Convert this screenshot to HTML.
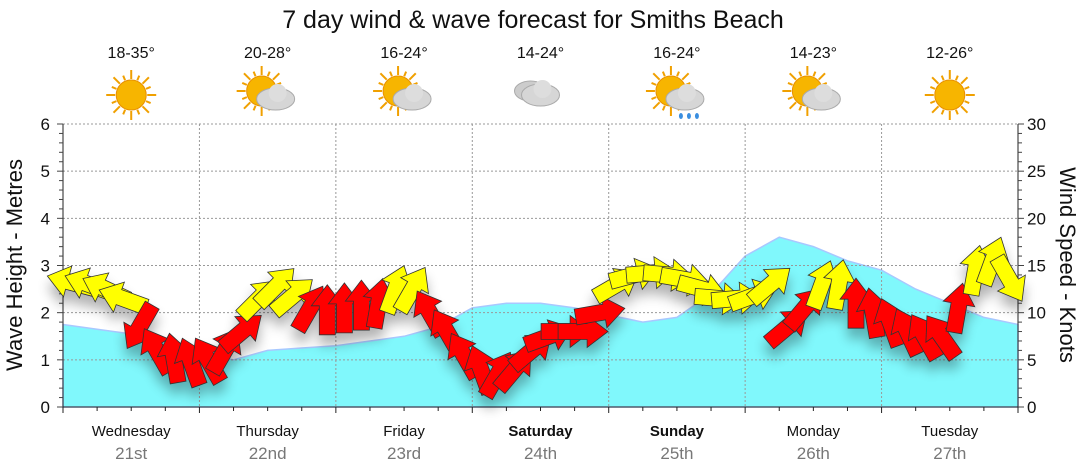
<!DOCTYPE html>
<html><head><meta charset="utf-8"><style>
body{margin:0;background:#fff;}
svg{display:block;font-family:"Liberation Sans",sans-serif;}
</style></head><body>
<svg id="chart" width="1080" height="475" viewBox="0 0 1080 475">
<defs>
<filter id="sh" x="-50%" y="-50%" width="200%" height="200%"><feGaussianBlur in="SourceAlpha" stdDeviation="6"/><feOffset dy="10"/><feComponentTransfer><feFuncA type="linear" slope="0.3"/></feComponentTransfer><feMerge><feMergeNode/><feMergeNode in="SourceGraphic"/></feMerge></filter>
</defs>
<text x="533" y="28" text-anchor="middle" font-size="25" fill="#111">7 day wind &amp; wave forecast for Smiths Beach</text>
<text transform="translate(22,265) rotate(-90)" text-anchor="middle" font-size="22" fill="#111">Wave Height - Metres</text>
<text transform="translate(1060,265) rotate(90)" text-anchor="middle" font-size="22" fill="#111">Wind Speed - Knots</text>
<text x="1013" y="400" text-anchor="end" font-size="10" fill="#8fd8e0">www.seabreeze.com.au</text>
<g id="g"></g>
</svg>
<script>
const days=['Wednesday','Thursday','Friday','Saturday','Sunday','Monday','Tuesday'];
const dates=['21st','22nd','23rd','24th','25th','26th','27th'];
const temps=['18-35°','20-28°','16-24°','14-24°','16-24°','14-23°','12-26°'];
const icons=['sun','suncloud','suncloud','cloud','rain','suncloud','sun'];
const leftTicks=[0,1,2,3,4,5,6];
const rightTicks=[0,5,10,15,20,25,30];
// wave height every 6 hours (29 points)
const waveHeight=[1.75,1.65,1.55,1.4,1.15,1.0,1.2,1.25,1.3,1.4,1.5,1.7,2.1,2.2,2.2,2.1,1.95,1.8,1.9,2.4,3.2,3.6,3.4,3.1,2.9,2.5,2.2,1.9,1.75];
// wind every 3 hours (56 points)
const windSpeed=[13.2,13.0,12.5,11.5,8.5,6.0,5.2,4.8,5.0,6.0,8.0,11.5,12.8,11.8,10.5,10.3,10.5,10.8,11.0,12.5,12.5,10.0,8.0,5.5,4.0,3.5,4.0,6.0,7.5,8.0,8.0,10.0,13.0,14.0,14.2,14.0,13.5,12.5,11.5,11.5,11.8,13.0,8.5,10.5,13.0,13.0,11.0,10.0,9.0,8.0,7.5,7.5,10.5,14.5,15.5,13.5];
const windAngle=[195,200,205,200,120,240,260,250,240,300,320,315,315,320,300,270,270,270,280,290,300,240,240,240,250,300,310,320,340,0,0,350,330,345,355,5,10,15,5,355,340,320,320,310,290,280,270,260,250,245,240,235,280,280,290,60];
const windColor=['Y','Y','Y','Y','R','R','R','R','R','R','R','Y','Y','Y','R','R','R','R','R','Y','Y','R','R','R','R','R','R','R','R','R','R','R','Y','Y','Y','Y','Y','Y','Y','Y','Y','Y','R','R','Y','Y','R','R','R','R','R','R','R','Y','Y','Y'];

const X0=63,X1=1018,Y0=407,Y1=124;
const dayW=(X1-X0)/7;
const xHour=h=>X0+h/168*(X1-X0);
const yM=m=>Y0-m/6*(Y0-Y1);
const yK=k=>Y0-k/30*(Y0-Y1);
const NS='http://www.w3.org/2000/svg';
const g=document.getElementById('g');
function el(t,a,p){const e=document.createElementNS(NS,t);for(const k in a)e.setAttribute(k,a[k]);(p||g).appendChild(e);return e;}

// wave area
let d='M'+X0+','+Y0;
waveHeight.forEach((v,i)=>{d+=' L'+xHour(i*6).toFixed(1)+','+yM(v).toFixed(1);});
d+=' L'+X1+','+Y0+' Z';
const wa=el('path',{d:d,fill:'#80f8fc',stroke:'#a8c8ff','stroke-width':1.5});



// grid
leftTicks.forEach(t=>{if(t>0){const l=el('line',{x1:X0,x2:X1,y1:yM(t),y2:yM(t),stroke:'#999','stroke-dasharray':'2,2','stroke-width':1});}});
for(let i=1;i<7;i++){const l=el('line',{x1:X0+i*dayW,x2:X0+i*dayW,y1:Y1,y2:Y0,stroke:'#999','stroke-dasharray':'2,2','stroke-width':1});}

// axes
el('line',{x1:X0,x2:X0,y1:Y1,y2:Y0+5,stroke:'#222'});
el('line',{x1:X1,x2:X1,y1:Y1,y2:Y0+5,stroke:'#222'});
el('line',{x1:X0,x2:X1,y1:Y0,y2:Y0,stroke:'#222'});
for(let m=0;m<=6.001;m+=0.2){const maj=Math.abs(m-Math.round(m))<0.01;el('line',{x1:X0-(maj?6:4),x2:X0,y1:yM(m),y2:yM(m),stroke:'#444'});}
for(let k=0;k<=30;k++){el('line',{x1:X1,x2:X1+(k%5==0?6:4),y1:yK(k),y2:yK(k),stroke:'#444'});}
for(let h=0;h<=168;h+=6){el('line',{x1:xHour(h),x2:xHour(h),y1:Y0,y2:Y0+(h%24==0?6:4),stroke:'#222'});}
leftTicks.forEach(t=>{const e=el('text',{x:50,y:yM(t)+6,'text-anchor':'end','font-size':17,fill:'#111'});e.textContent=t;});
rightTicks.forEach(t=>{const e=el('text',{x:1027,y:yK(t)+6,'font-size':17,fill:'#111'});e.textContent=t;});

// day labels, temps, icons
days.forEach((n,i)=>{
 const cx=X0+(i+0.5)*dayW;
 const bold=(i==3||i==4);
 const a=el('text',{x:cx,y:436,'text-anchor':'middle','font-size':15,fill:'#111','font-weight':bold?'bold':'normal'});a.textContent=n;
 
 const b=el('text',{x:cx,y:459,'text-anchor':'middle','font-size':17,fill:'#777'});b.textContent=dates[i];
 
 const c=el('text',{x:cx,y:58,'text-anchor':'middle','font-size':16,fill:'#111'});c.textContent=temps[i];
 
 const ig=el('g',{transform:'translate('+cx+',95)'});
 
 const t=icons[i];
 if(t!='cloud'){
  const sx=t=='sun'?0:-6, sy=t=='sun'?0:-4;
  for(let r=0;r<16;r++){const an=r*Math.PI/8;el('line',{x1:sx+Math.cos(an)*16,y1:sy+Math.sin(an)*16,x2:sx+Math.cos(an)*(r%2?21:25),y2:sy+Math.sin(an)*(r%2?21:25),stroke:'#f0a000','stroke-width':2},ig);}
  el('circle',{cx:sx,cy:sy,r:15,fill:'#f7b500',stroke:'#e89000'},ig);
 }
 if(t!='sun'){
  const ox=t=='cloud'?0:8, oy=t=='cloud'?0:4;
  if(t=='cloud')el('ellipse',{cx:-10,cy:-4,rx:16,ry:10,fill:'#ccc',stroke:'#aaa'},ig);
  el('ellipse',{cx:ox,cy:oy,rx:19,ry:11,fill:'#d6d6d6',stroke:'#aaa'},ig);
  el('circle',{cx:ox+2,cy:oy-6,r:9,fill:'#ddd'},ig);
  if(t=='rain'){[-4,4,12].forEach(dx=>el('ellipse',{cx:ox+dx,cy:oy+17,rx:2,ry:3,fill:'#3a8ee0'},ig));}
 }
});

// wind arrows
const ag=el('g',{filter:'url(#sh)'});

windSpeed.forEach((s,i)=>{
 const x=xHour(i*3+1.5), y=yK(s);
 const p=el('polygon',{points:'-25,-8 4,-8 4,-16 25,0 4,16 4,8 -25,8',fill:windColor[i]=='Y'?'#ffff00':'#ff0000',stroke:'#333','stroke-width':0.8,transform:'translate('+x.toFixed(1)+','+y.toFixed(1)+') rotate('+windAngle[i]+')'},ag);
 
 
});
</script>
</body></html>
